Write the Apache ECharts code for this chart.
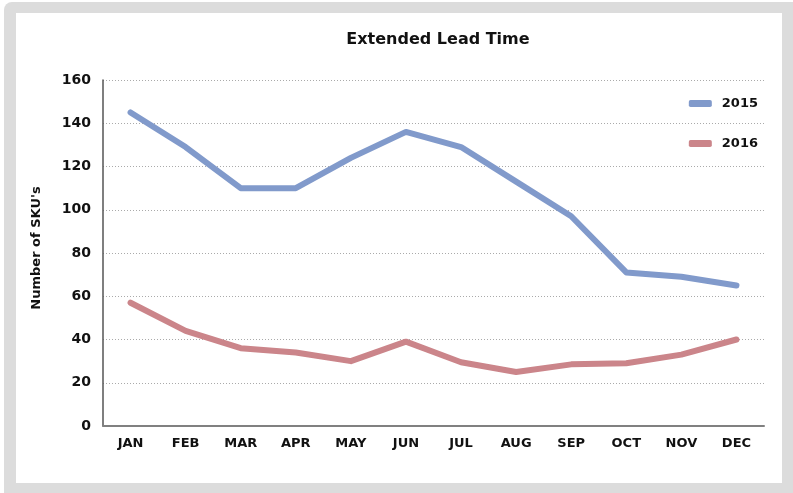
<!DOCTYPE html>
<html>
<head>
<meta charset="utf-8">
<script src="https://cdn.jsdelivr.net/npm/echarts@6/dist/echarts.min.js"></script>
<style>
html,body{margin:0;padding:0;background:#fff;}
#c{width:793px;height:493px;}
</style>
</head>
<body>
<div id="c"></div>
<script>
const months = ['JAN','FEB','MAR','APR','MAY','JUN','JUL','AUG','SEP','OCT','NOV','DEC'];
const series2015 = [145, 129, 110, 110, 124, 136, 129, 113, 97, 71, 69, 65];
const series2016 = [57, 44, 36, 34, 30, 39, 29.5, 25, 28.5, 29, 33, 40];
const seriesNames = ['2015', '2016'];
const titleText = 'Extended Lead Time';
const yAxisTitle = "Number of SKU's";

const FONT = '"DejaVu Sans", sans-serif';
const chart = echarts.init(document.getElementById('c'), null, {renderer: 'canvas'});
chart.setOption({
  animation: false,
  backgroundColor: '#fff',
  graphic: [
    {type: 'rect', z: -10, silent: true, shape: {x: 4, y: 2, width: 800, height: 500, r: 8}, style: {fill: '#dcdcdc'}},
    {type: 'rect', z: -9, silent: true, shape: {x: 16, y: 13, width: 766, height: 470}, style: {fill: '#ffffff'}}
  ],
  title: {
    text: titleText,
    left: 433, top: 27, textAlign: 'center',
    textStyle: {fontFamily: FONT, fontWeight: 'bold', fontSize: 16, color: '#111'}
  },
  legend: {
    data: seriesNames,
    orient: 'vertical',
    right: 30, top: 92,
    itemGap: 27,
    itemWidth: 23, itemHeight: 7,
    icon: 'roundRect',
    textStyle: {fontFamily: FONT, fontWeight: 'bold', fontSize: 13, color: '#111', padding: [0, 0, 0, 5]}
  },
  grid: {left: 103, right: 29, top: 80, bottom: 67, containLabel: false},
  xAxis: {
    type: 'category',
    data: months,
    boundaryGap: true,
    axisLine: {show: true, lineStyle: {color: '#808080', width: 2}},
    axisTick: {show: false},
    axisLabel: {fontFamily: FONT, fontWeight: 'bold', fontSize: 13, color: '#111', margin: 11}
  },
  yAxis: {
    type: 'value',
    min: 0, max: 160, interval: 20,
    name: yAxisTitle,
    nameLocation: 'middle',
    nameGap: 60,
    nameRotate: 90,
    nameTextStyle: {fontFamily: FONT, fontSize: 13, fontWeight: 'bold', color: '#111', padding: [0, 0, 0, 10]},
    axisLine: {show: true, lineStyle: {color: '#555', width: 1.5}},
    axisTick: {show: false},
    axisLabel: {fontFamily: FONT, fontWeight: 'bold', fontSize: 14, color: '#111', margin: 12},
    splitLine: {show: true, lineStyle: {color: '#aaa', type: [1, 2], width: 1}}
  },
  series: [
    {name: seriesNames[0], type: 'line', data: series2015, symbol: 'none',
     lineStyle: {color: '#819acb', width: 6, cap: 'round', join: 'round'}, itemStyle: {color: '#819acb'}},
    {name: seriesNames[1], type: 'line', data: series2016, symbol: 'none',
     lineStyle: {color: '#cb858a', width: 6, cap: 'round', join: 'round'}, itemStyle: {color: '#cb858a'}}
  ]
});
</script>
</body>
</html>
